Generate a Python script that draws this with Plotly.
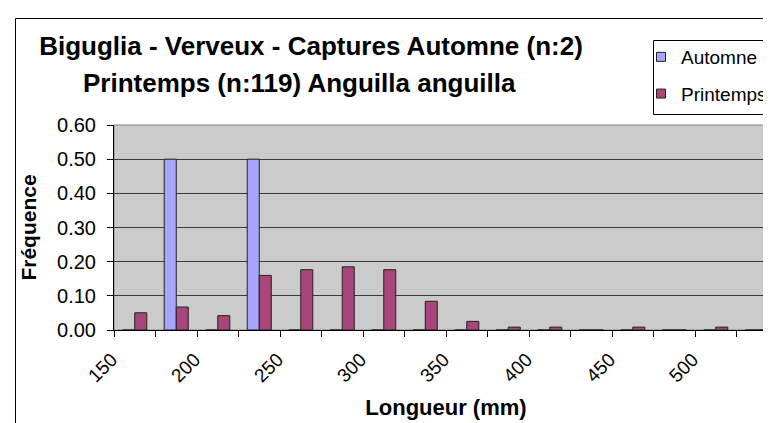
import plotly.graph_objects as go

# ---- data ----
longueur_mm = [150, 175, 200, 225, 250, 275, 300, 325, 350, 375, 400, 425, 450, 475, 500, 525]
automne = [0, 0.50, 0, 0.50, 0, 0, 0, 0, 0, 0, 0, 0, 0, 0, 0, 0]
printemps_counts = [6, 8, 5, 19, 21, 22, 21, 10, 3, 1, 1, 0, 1, 0, 1, 0]
n_printemps = 119
printemps = [c / n_printemps for c in printemps_counts]
x_tick_vals = [150, 200, 250, 300, 350, 400, 450, 500]
x_tick_text = ["150", "200", "250", "300", "350", "400", "450", "500"]
y_tick_vals = [0, 0.1, 0.2, 0.3, 0.4, 0.5, 0.6]

COL_A = "#A6A6FF"
COL_P = "#A8457A"
FONT = "Liberation Sans, Arial, sans-serif"
W, H = 771, 423
L, R, T, B = 106, 1, 117, 101
pw, ph = W - L - R, H - T - B


def px(x):
    return (x - L) / pw


def py(y):
    return (H - B - y) / ph


fig = go.Figure()
fig.add_trace(go.Bar(
    x=longueur_mm, y=automne, name="Automne", showlegend=False,
    marker=dict(color=COL_A, line=dict(color="#222222", width=1)),
))
fig.add_trace(go.Bar(
    x=longueur_mm, y=printemps, name="Printemps", showlegend=False,
    marker=dict(color=COL_P, line=dict(color="#222222", width=1)),
))
# legend entries (square swatches like the original)
fig.add_trace(go.Scatter(
    x=[None], y=[None], mode="markers", name="Automne", legendgroup="a",
    marker=dict(symbol="square", size=9, color=COL_A, line=dict(color="#222222", width=1)),
))
fig.add_trace(go.Scatter(
    x=[None], y=[None], mode="markers", name="Printemps", legendgroup="p",
    marker=dict(symbol="square", size=9, color=COL_P, line=dict(color="#222222", width=1)),
))

fig.update_layout(
    width=W, height=H,
    margin=dict(l=L, r=R, t=T, b=B, pad=0),
    paper_bgcolor="white",
    plot_bgcolor="#CBCBCB",
    barmode="group", bargap=0.42, bargroupgap=0,
    font=dict(family=FONT, size=19, color="black"),
    title=dict(
        text="<b>Biguglia - Verveux - Captures Automne (n:2)</b>",
        font=dict(family=FONT, size=26, color="black"),
        x=303 / W, xanchor="center", xref="container",
        y=1 - 29 / H, yanchor="top", yref="container",
    ),
    showlegend=True,
    legend=dict(
        x=px(633), y=py(30), xanchor="left", yanchor="top",
        bgcolor="rgba(0,0,0,0)", borderwidth=0,
        font=dict(family=FONT, size=19, color="black"),
        traceorder="grouped", tracegroupgap=9,
    ),
)

fig.add_annotation(
    text="<b>Printemps (n:119) Anguilla anguilla</b>",
    xref="paper", yref="paper", x=px(291), y=py(75), xanchor="center", yanchor="middle",
    showarrow=False, font=dict(family=FONT, size=26, color="black"),
)

fig.update_xaxes(
    range=[137.5, 537.5],
    tickmode="array", tickvals=x_tick_vals, ticktext=x_tick_text,
    tickangle=-45, ticks="outside", ticklen=6, tickcolor="rgba(0,0,0,0)",
    ticklabelshift=-23, ticklabelstandoff=4,
    tickfont=dict(family=FONT, size=19),
    minor=dict(tickmode="linear", tick0=137.5, dtick=25, ticks="outside", ticklen=6,
               tickcolor="black", showgrid=False),
    showgrid=False, zeroline=False,
    showline=True, linecolor="black", linewidth=1,
    title=dict(text="<b>Longueur (mm)</b>", font=dict(family=FONT, size=22), standoff=14),
)
fig.update_yaxes(
    range=[0, 0.6], tickmode="array", tickvals=y_tick_vals, tickformat=".2f",
    ticks="outside", ticklen=6, tickcolor="black", ticklabelstandoff=7,
    tickfont=dict(family=FONT, size=20),
    showgrid=True, gridcolor="#3A3A3A", gridwidth=1, zeroline=False,
    showline=True, linecolor="black", linewidth=1,
    title=dict(text="<b>Fréquence</b>", font=dict(family=FONT, size=21), standoff=14),
)

# plot area border (gray) and outer chart frame
fig.add_shape(type="rect", xref="paper", yref="paper", x0=0, x1=1, y0=0, y1=1,
              line=dict(color="#808080", width=1), fillcolor="rgba(0,0,0,0)", layer="below")
fig.add_shape(type="rect", xref="paper", yref="paper",
              x0=px(7.5), x1=px(790), y0=py(440), y1=py(10.5),
              line=dict(color="black", width=1), fillcolor="rgba(0,0,0,0)")
# legend frame
fig.add_shape(type="rect", xref="paper", yref="paper",
              x0=px(645.5), x1=px(790), y0=py(106.5), y1=py(32.5),
              line=dict(color="black", width=1), fillcolor="rgba(0,0,0,0)")

fig.write_html("out.html")
